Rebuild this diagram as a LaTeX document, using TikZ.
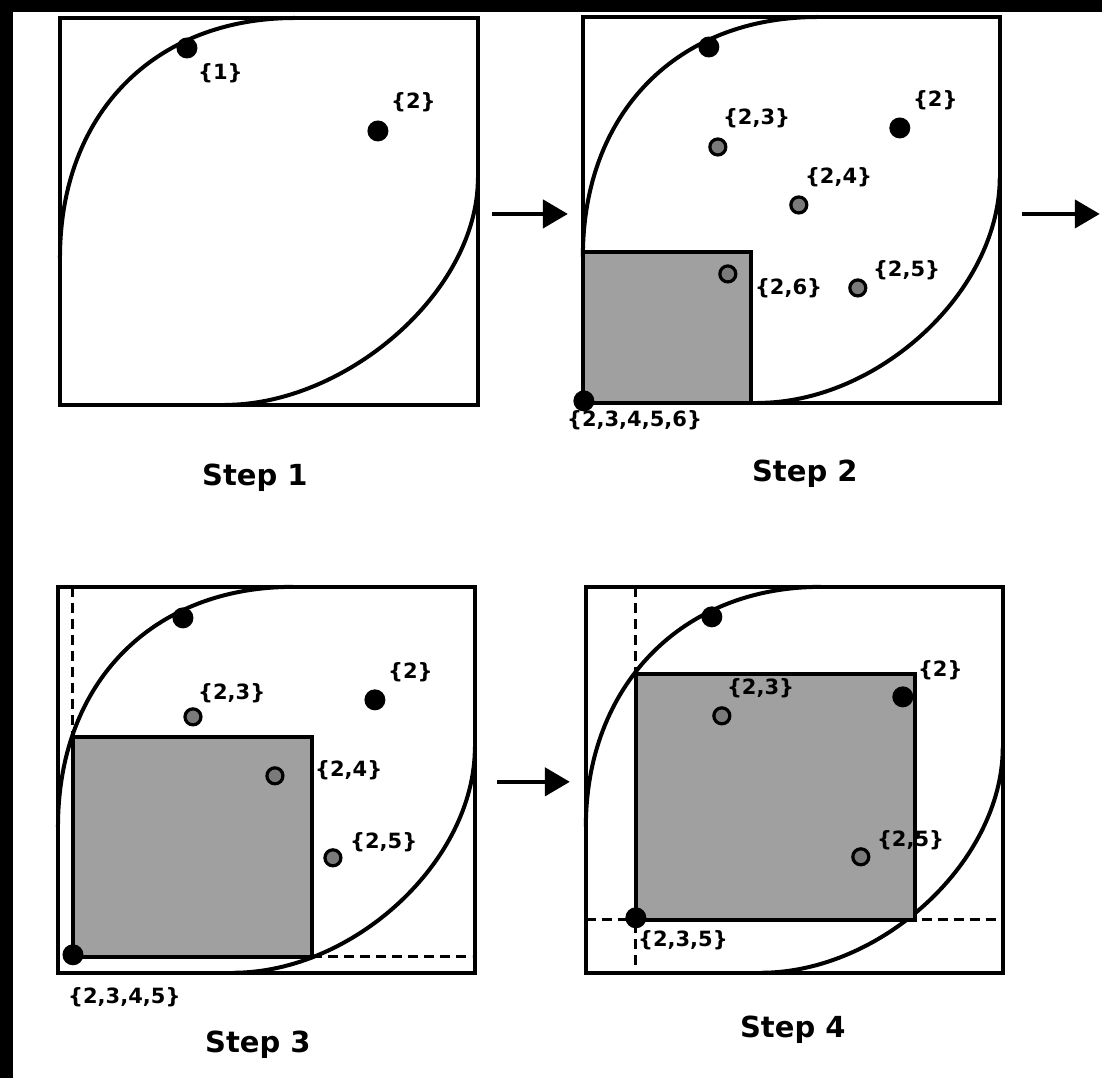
\documentclass[tikz,border=0pt]{standalone}
\usepackage{fontspec}
\setmainfont{DejaVu Sans}
\usetikzlibrary{arrows.meta}
\definecolor{boxgray}{HTML}{A0A0A0}
\definecolor{dotgray}{HTML}{7A7A7A}
\begin{document}
\begin{tikzpicture}[x=1pt,y=-1pt,
  frame/.style={draw=black, line width=4.2pt},
  leaf/.style={draw=black, line width=4pt},
  bdot/.style={circle, fill=black, inner sep=0pt, minimum size=21pt},
  gdot/.style={circle, fill=dotgray, draw=black, line width=3.2pt, inner sep=0pt, minimum size=16pt},
  lbl/.style={font=\fontsize{21}{21}\selectfont\bfseries, inner sep=0pt, anchor=west},
  steplbl/.style={font=\fontsize{29}{29}\selectfont\bfseries, inner sep=0pt},
  region/.style={fill=boxgray, draw=black, line width=4.2pt},
  dsh/.style={draw=black, line width=3pt, dash pattern=on 10pt off 6pt},
  arr/.style={draw=black, line width=4.5pt, -{Triangle[length=25pt,width=28pt]}}
]
\fill[black] (0,0) rectangle (1102,1078);
\fill[white] (13,12) rectangle (1102,1078);

% ---------- Panel 1 ----------
\begin{scope}[shift={(60,18)}]
  \draw[leaf] (0,240) .. controls (0,95) and (95,0) .. (235,0);
  \draw[leaf] (418,160) .. controls (418,275) and (285,387) .. (165,387);
  \draw[frame] (0,0) rectangle (418,387);
\end{scope}
\node[bdot] (p1a) at (187,48) {};
\node[bdot] (p1b) at (378,131) {};
\node[lbl] (l1a) at (198,73) {\{1\}};
\node[lbl] (l1b) at (391,102) {\{2\}};
\node[steplbl] (s1) at (255,478) {Step 1};

% ---------- Panel 2 ----------
\begin{scope}[shift={(583,17)}]
  \draw[leaf] (0,240) .. controls (0,95) and (95,0) .. (235,0);
  \draw[leaf] (417,160) .. controls (417,275) and (295,386) .. (175,386);
  \draw[region] (0,235) rectangle (168,386);
  \draw[frame] (0,0) rectangle (417,386);
\end{scope}
\node[bdot] (p2a) at (709,47) {};
\node[gdot] (p2b) at (718,147) {};
\node[gdot] (p2c) at (799,205) {};
\node[bdot] (p2d) at (900,128) {};
\node[gdot] (p2e) at (728,274) {};
\node[gdot] (p2f) at (858,288) {};
\node[bdot] (p2g) at (584,401) {};
\node[lbl] (l2b) at (723,118) {\{2,3\}};
\node[lbl] (l2c) at (805,177) {\{2,4\}};
\node[lbl] (l2d) at (913,100) {\{2\}};
\node[lbl] (l2e) at (755,288) {\{2,6\}};
\node[lbl] (l2f) at (873,270) {\{2,5\}};
\node[lbl] (l2g) at (567,420) {\{2,3,4,5,6\}};
\node[steplbl] (s2) at (805,474) {Step 2};

% ---------- Panel 3 ----------
\begin{scope}[shift={(58,587)}]
  \draw[leaf] (0,240) .. controls (0,95) and (95,0) .. (235,0);
  \draw[leaf] (417,160) .. controls (417,275) and (295,386) .. (175,386);
\end{scope}
\coordinate (d3t) at (73,587);
\coordinate (d3r) at (472,957);
\draw[region] (73,737) rectangle (312,957);
\draw[dsh] (d3t) -- (73,737);
\draw[dsh] (312,957) -- (d3r);
\draw[frame] (58,587) rectangle (475,973);
\node[bdot] (p3a) at (183,618) {};
\node[gdot] (p3b) at (193,717) {};
\node[bdot] (p3c) at (375,700) {};
\node[gdot] (p3d) at (275,776) {};
\node[gdot] (p3e) at (333,858) {};
\node[bdot] (p3f) at (73,955) {};
\node[lbl] (l3b) at (198,693) {\{2,3\}};
\node[lbl] (l3c) at (388,672) {\{2\}};
\node[lbl] (l3d) at (315,770) {\{2,4\}};
\node[lbl] (l3e) at (350,842) {\{2,5\}};
\node[lbl] (l3f) at (68,997) {\{2,3,4,5\}};
\node[steplbl] (s3) at (258,1045) {Step 3};

% ---------- Panel 4 ----------
\begin{scope}[shift={(586,587)}]
  \draw[leaf] (0,240) .. controls (0,100) and (95,0) .. (235,0);
  \draw[leaf] (417,160) .. controls (417,275) and (295,386) .. (175,386);
\end{scope}
\coordinate (d4t) at (636,587);
\coordinate (d4b) at (636,973);
\coordinate (d4l) at (586,920);
\coordinate (d4r) at (1003,920);
\draw[dsh] (d4t) -- (d4b);
\draw[dsh] (d4l) -- (d4r);
\draw[region] (636,674) rectangle (915,920);
\draw[frame] (586,587) rectangle (1003,973);
\node[bdot] (p4a) at (712,617) {};
\node[gdot] (p4b) at (722,716) {};
\node[bdot] (p4c) at (903,697) {};
\node[gdot] (p4d) at (861,857) {};
\node[bdot] (p4e) at (636,918) {};
\node[lbl] (l4b) at (727,688) {\{2,3\}};
\node[lbl] (l4c) at (918,670) {\{2\}};
\node[lbl] (l4d) at (877,840) {\{2,5\}};
\node[lbl] (l4e) at (638,940) {\{2,3,5\}};
\node[steplbl] (s4) at (793,1030) {Step 4};

% ---------- Arrows ----------
\coordinate (a1s) at (492,214);
\coordinate (a1e) at (568,214);
\coordinate (a2s) at (1022,214);
\coordinate (a2e) at (1100,214);
\coordinate (a3s) at (497,782);
\coordinate (a3e) at (570,782);
\draw[arr] (a1s) -- (a1e);
\draw[arr] (a2s) -- (a2e);
\draw[arr] (a3s) -- (a3e);
\end{tikzpicture}
\end{document}
